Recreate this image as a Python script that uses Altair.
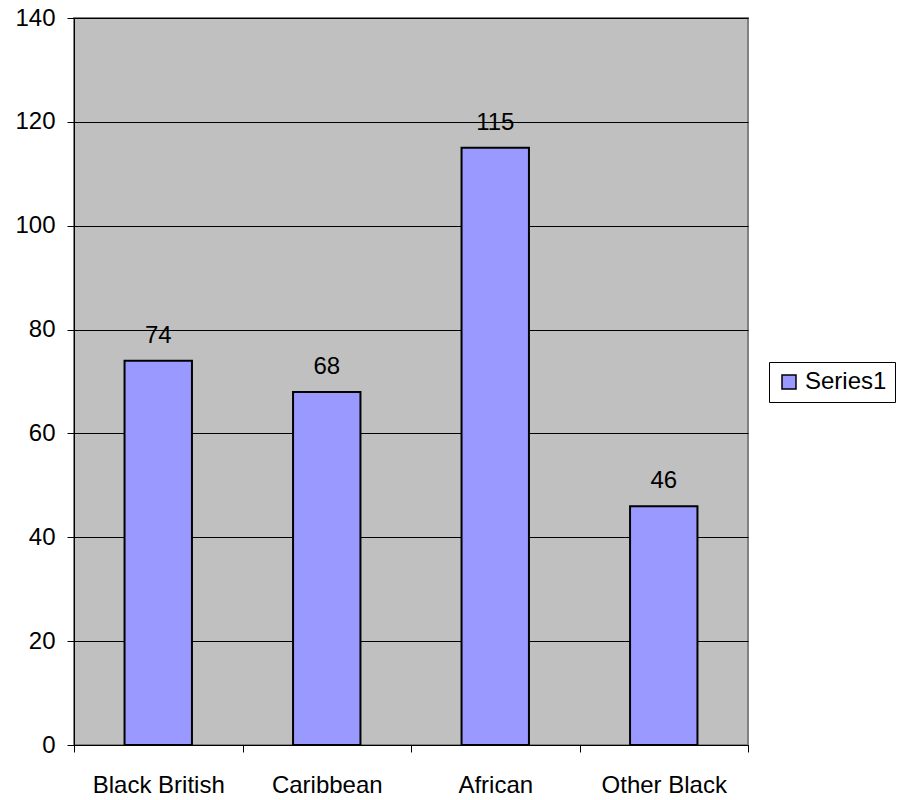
import altair as alt
import pandas as pd

# Counts per group
categories = ["Black British", "Caribbean", "African", "Other Black"]
values = [74, 68, 115, 46]
series_name = "Series1"

df = pd.DataFrame({
    "group": categories,
    "count": values,
    "series": [series_name] * len(categories),
})

FONT = "Liberation Sans"
FS = 24

x_enc = alt.X(
    "group:N",
    sort=categories,
    scale=alt.Scale(paddingInner=0, paddingOuter=0),
    axis=alt.Axis(
        title=None,
        labelAngle=0,
        labelFontSize=FS,
        labelFont=FONT,
        labelColor="black",
        labelPadding=21,
        tickBand="extent",
        tickSize=7,
        tickColor="black",
        domainColor="black",
        grid=False,
    ),
)

y_enc = alt.Y(
    "count:Q",
    scale=alt.Scale(domain=[0, 140], nice=False),
    axis=alt.Axis(
        title=None,
        values=list(range(0, 141, 20)),
        grid=True,
        gridColor="black",
        gridWidth=1,
        tickSize=7,
        tickColor="black",
        domainColor="black",
        labelFontSize=FS,
        labelFont=FONT,
        labelColor="black",
        labelPadding=12,
    ),
)

bars = alt.Chart(df).mark_bar(
    width=alt.RelativeBandSize(0.4),
    stroke="black",
    strokeWidth=2,
).encode(
    x=x_enc,
    y=y_enc,
    color=alt.Color(
        "series:N",
        scale=alt.Scale(domain=[series_name], range=["#9999FF"]),
        legend=alt.Legend(
            title=None,
            orient="none",
            legendX=695,
            legendY=344,
            strokeColor="black",
            fillColor="white",
            padding=8,
            symbolType="square",
            symbolSize=196,
            symbolStrokeColor="black",
            symbolStrokeWidth=1.5,
            labelFontSize=FS,
            labelFont=FONT,
            labelColor="black",
            labelOffset=4,
            labelExpr="datum.label + ' '",
        ),
    ),
)

labels = alt.Chart(df).mark_text(
    font=FONT,
    fontSize=FS,
    color="black",
    baseline="alphabetic",
    dy=-18,
).encode(
    x=alt.X("group:N", sort=categories),
    y=alt.Y("count:Q"),
    text=alt.Text("count:Q"),
)

chart = alt.layer(bars, labels).properties(
    width=674,
    height=727,
    autosize=alt.AutoSizeParams(type="none"),
    padding={"left": 74, "top": 18, "right": 151, "bottom": 55},
    background="white",
).configure_view(
    fill="#C0C0C0",
    stroke="#808080",
    strokeWidth=2,
)

chart.save("out.html", embed_options={"renderer": "svg", "actions": False})
